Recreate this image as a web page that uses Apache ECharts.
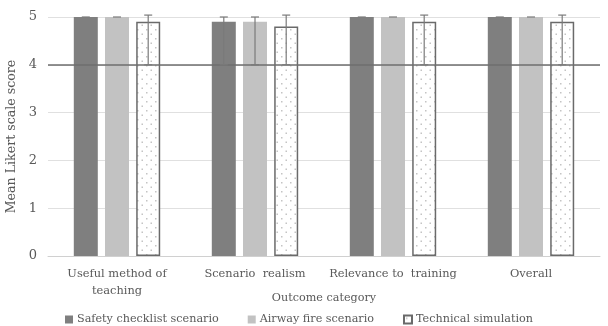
<!DOCTYPE html>
<html>
<head>
<meta charset="utf-8">
<script src="https://cdn.jsdelivr.net/npm/echarts@6/dist/echarts.min.js"></script>
<style>
html,body{margin:0;padding:0;background:#fff;}
#chart{width:608px;height:326px;}
</style>
</head>
<body>
<div id="chart"></div>
<script>
// Outcome categories and mean Likert scores per teaching scenario
const categories = ['Useful method of\nteaching', 'Scenario  realism', 'Relevance to  training', 'Overall'];
const seriesNames = ['Safety checklist scenario', 'Airway fire scenario', 'Technical simulation'];
const safetyChecklist = [5, 4.9, 5, 5];
const airwayFire = [5, 4.9, 5, 5];
const technicalSim = [4.9, 4.8, 4.9, 4.9];
// Error bar extents (low, high) for each series
const safetyLow = [5, 4, 5, 5];
const safetyHigh = [5, 5, 5, 5];
const airwayLow = [5, 4, 5, 5];
const airwayHigh = [5, 5, 5, 5];
const techLow = [4, 4, 4, 4];
const techHigh = [5.04, 5.04, 5.04, 5.04];
const referenceLine = 4;
const yTicks = [0, 1, 2, 3, 4, 5];

const FONT = 'DejaVu Serif';
const TEXT = '#595959';

// dotted fill for the technical simulation bars
function dotPattern() {
  const c = document.createElement('canvas');
  c.width = 9; c.height = 9;
  const g = c.getContext('2d');
  g.fillStyle = '#ffffff';
  g.fillRect(0, 0, 9, 9);
  g.fillStyle = '#c4c4c4';
  g.fillRect(2, 2, 1.5, 1.5);
  g.fillRect(6.5, 6.5, 1.5, 1.5);
  return c;
}

const BAR_W = 24;
const GAP = 7.2;

function errorSeries(low, high, idx) {
  const data = low.map((l, i) => [i, l, high[i]]);
  return {
    type: 'custom',
    z: 5,
    silent: true,
    renderItem: function (params, api) {
      const i = api.value(0);
      const off = (idx - 1) * (BAR_W + GAP);
      const pLo = api.coord([i, api.value(1)]);
      const pHi = api.coord([i, api.value(2)]);
      const x = pLo[0] + off;
      const cap = 4;
      const st = { stroke: '#7a7a7a', lineWidth: 1.2 };
      const children = [];
      if (Math.abs(pLo[1] - pHi[1]) > 0.5) {
        children.push({ type: 'line', shape: { x1: x, y1: pLo[1], x2: x, y2: pHi[1] }, style: st });
        children.push({ type: 'line', shape: { x1: x - cap, y1: pLo[1], x2: x + cap, y2: pLo[1] }, style: st });
      }
      children.push({ type: 'line', shape: { x1: x - cap, y1: pHi[1], x2: x + cap, y2: pHi[1] }, style: st });
      return { type: 'group', children: children };
    },
    data: data
  };
}

const chart = echarts.init(document.getElementById('chart'), null, { renderer: 'canvas' });
chart.setOption({
  animation: false,
  backgroundColor: '#ffffff',
  textStyle: { fontFamily: FONT, color: TEXT },
  grid: { left: 48, right: 8, top: 17, bottom: 70, containLabel: false, outerBoundsMode: 'none' },
  legend: {
    top: 314,
    left: 65,
    padding: 0,
    itemWidth: 8,
    itemHeight: 8,
    itemGap: 29,
    icon: 'rect',
    textStyle: { fontFamily: FONT, fontSize: 11.2, color: TEXT, padding: [0, 0, 0, -1] },
    data: seriesNames
  },
  xAxis: {
    type: 'category',
    data: categories,
    name: 'Outcome category',
    nameLocation: 'middle',
    nameGap: 37,
    nameMoveOverlap: false,
    nameTextStyle: { fontFamily: FONT, fontSize: 11.2, color: TEXT },
    axisLine: { show: true, lineStyle: { color: '#d0d0d0', width: 1 } },
    axisTick: { show: false },
    axisLabel: { fontFamily: FONT, fontSize: 11.4, color: TEXT, margin: 10, lineHeight: 17, interval: 0 }
  },
  yAxis: {
    type: 'value',
    min: 0,
    max: 5,
    interval: 1,
    name: 'Mean Likert scale score',
    nameLocation: 'middle',
    nameGap: 30,
    nameMoveOverlap: false,
    nameTextStyle: { fontFamily: FONT, fontSize: 12.6, color: TEXT },
    axisLine: { show: false },
    axisTick: { show: false },
    axisLabel: { fontFamily: FONT, fontSize: 13, color: TEXT, margin: 11,
      formatter: v => yTicks.includes(v) ? String(v) : '' },
    splitLine: { lineStyle: { color: '#e0e0e0', width: 1 } }
  },
  series: [
    {
      name: seriesNames[0], type: 'bar', data: safetyChecklist,
      barWidth: BAR_W, barGap: '30%', barCategoryGap: '37%',
      itemStyle: { color: '#7f7f7f' },
      markLine: {
        silent: true, symbol: 'none', label: { show: false },
        lineStyle: { color: '#6e6e6e', width: 1.5, type: 'solid' },
        data: [{ yAxis: referenceLine }]
      }
    },
    {
      name: seriesNames[1], type: 'bar', data: airwayFire,
      barWidth: BAR_W, barGap: '30%',
      itemStyle: { color: '#c2c2c2' }
    },
    {
      name: seriesNames[2], type: 'bar', data: technicalSim,
      barWidth: BAR_W, barGap: '30%',
      itemStyle: { color: { image: dotPattern(), repeat: 'repeat' }, borderColor: '#6a6a6a', borderWidth: 1.5 }
    },
    errorSeries(safetyLow, safetyHigh, 0),
    errorSeries(airwayLow, airwayHigh, 1),
    errorSeries(techLow, techHigh, 2)
  ]
});
</script>
</body>
</html>
